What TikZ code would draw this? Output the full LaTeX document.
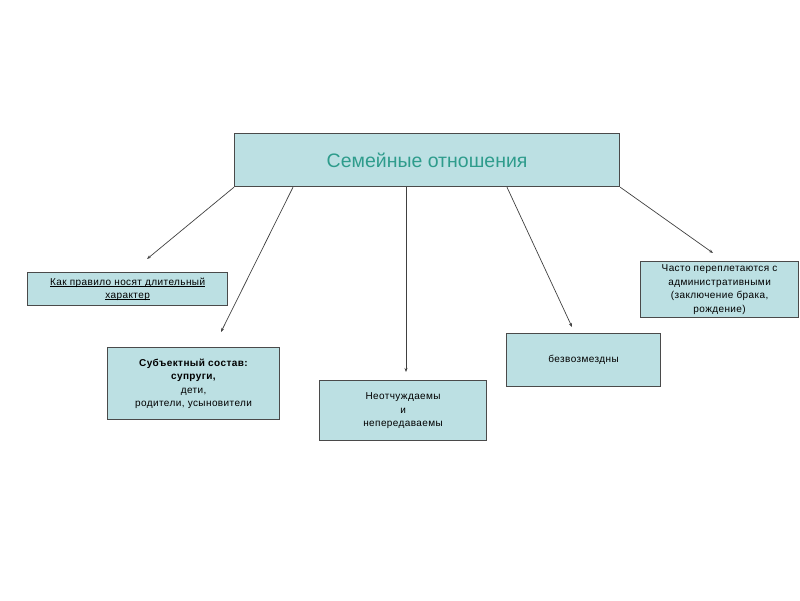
\documentclass[tikz,border=0pt]{standalone}
\usepackage{fontspec}
\setmainfont{Liberation Sans}
\usetikzlibrary{arrows.meta}
\definecolor{boxfill}{HTML}{BCE0E3}
\definecolor{boxline}{HTML}{4A4A4A}
\definecolor{titlecol}{HTML}{2E9C8C}
\newfontfamily\smallfam[LetterSpace=4]{Liberation Sans}
\newcommand\myul[1]{\setbox0\hbox{#1}\rlap{\rule[-1.6pt]{\wd0}{0.6pt}}\box0}
\tikzset{
  cbox/.style={draw=boxline, line width=1.2pt, fill=boxfill, anchor=north west, inner sep=1pt, align=center, font=\smallfam\fontsize{10}{13.5}\selectfont},
  conn/.style={draw=black!75, line width=0.7pt, -{Stealth[length=4pt,width=3pt]}}
}
\begin{document}
\begin{tikzpicture}[x=1pt,y=-1pt]
\useasboundingbox (0,0) rectangle (800,600);
\node[cbox, minimum width=385pt, minimum height=53pt, font=\rmfamily\fontsize{19.5}{22}\selectfont, text=titlecol] (top) at (234,133) {Семейные отношения};
\node[cbox, minimum width=200pt, minimum height=33pt, font=\smallfam\fontsize{10}{13}\selectfont] (b1) at (27,272) {\myul{Как правило носят длительный}\\\myul{характер}};
\node[cbox, minimum width=172pt, minimum height=72pt] (b2) at (107,347) {\textbf{Субъектный состав:}\\\textbf{супруги,}\\дети,\\родители, усыновители};
\node[cbox, minimum width=167pt, minimum height=60pt] (b3) at (319,380) {Неотчуждаемы\\и\\непередаваемы};
\node[cbox, minimum width=154pt, minimum height=53pt] (b4) at (506,333) {безвозмездны};
\node[cbox, minimum width=158pt, minimum height=56pt] (b5) at (640,261) {Часто переплетаются с\\административными\\(заключение брака,\\рождение)};
\coordinate (t1) at (147,259);
\coordinate (t2) at (221,332);
\coordinate (t3) at (406,372);
\coordinate (t4) at (572,327);
\coordinate (t5) at (713,253);
\draw[conn] (top.south west) -- (t1);
\draw[conn] ([xshift=59pt]top.south west) -- (t2);
\draw[conn] ([xshift=172pt]top.south west) -- (t3);
\draw[conn] ([xshift=273pt]top.south west) -- (t4);
\draw[conn] (top.south east) -- (t5);
\end{tikzpicture}
\end{document}
